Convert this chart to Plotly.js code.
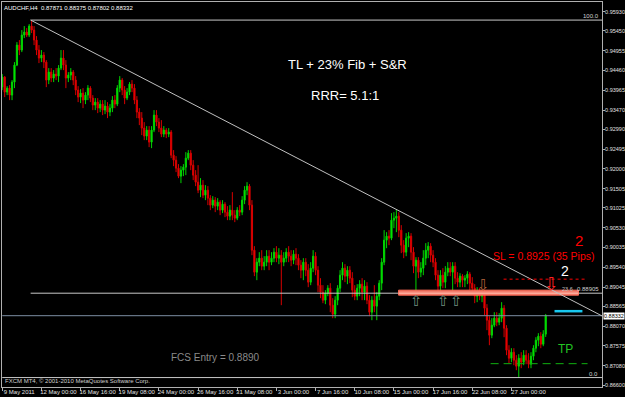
<!DOCTYPE html>
<html><head><meta charset="utf-8">
<script src="https://cdn.plot.ly/plotly-3.0.1.min.js"></script>
<style>html,body{margin:0;padding:0;background:#000;}#chart{width:625px;height:397px;}</style>
</head><body><div id="chart"></div>
<script>
// AUDCHF H4 candles (9 May 2011 08:00 ... 29 Jun 2011)
const open = [
0.94045,0.94295,0.93920,0.94020,0.93845,0.94170,0.94595,0.95095,0.94970,0.95345,
0.95420,0.95345,0.95570,0.95470,0.95220,0.94970,0.94770,0.94845,0.94670,0.94220,
0.94420,0.94270,0.94370,0.94320,0.94520,0.94770,0.94595,0.94270,0.94345,0.94420,
0.94220,0.93970,0.93795,0.93895,0.93720,0.93845,0.94020,0.93770,0.93595,0.93670,
0.93520,0.93620,0.93470,0.93570,0.93420,0.93520,0.93720,0.93620,0.94020,0.94220,
0.93970,0.93770,0.93920,0.94120,0.94020,0.93720,0.93420,0.93270,0.93020,0.92820,
0.92970,0.92670,0.92970,0.93345,0.93170,0.93020,0.92870,0.92970,0.92870,0.92920,
0.92345,0.92220,0.92020,0.91820,0.91970,0.92045,0.92270,0.92395,0.92095,0.91845,
0.91670,0.91470,0.91595,0.91345,0.91470,0.91270,0.91095,0.91220,0.91070,0.91170,
0.90970,0.91120,0.90920,0.90820,0.90970,0.90845,0.90770,0.90970,0.90920,0.91220,
0.91470,0.91570,0.91095,0.89970,0.89420,0.89670,0.89770,0.89570,0.89670,0.89820,
0.89670,0.89770,0.89920,0.89770,0.89845,0.89670,0.89770,0.89920,0.89820,0.89720,
0.89870,0.89770,0.89595,0.89470,0.89670,0.89470,0.89170,0.89520,0.89820,0.89470,
0.89095,0.88920,0.88720,0.88895,0.89020,0.88595,0.88370,0.88720,0.89020,0.89345,
0.89520,0.89320,0.89470,0.89270,0.88970,0.88820,0.89020,0.89120,0.88920,0.89070,
0.88720,0.88420,0.88720,0.88570,0.88820,0.89145,0.89670,0.90220,0.90320,0.90270,
0.90720,0.90770,0.90820,0.90470,0.90095,0.89920,0.90270,0.90320,0.89920,0.89570,
0.89720,0.89420,0.89520,0.89770,0.89970,0.90070,0.89845,0.89670,0.89345,0.89070,
0.89345,0.89170,0.89420,0.89520,0.89420,0.89570,0.89270,0.89170,0.89320,0.89220,
0.89270,0.89370,0.89145,0.89020,0.88820,0.88920,0.88820,0.88895,0.88520,0.88220,
0.87845,0.88095,0.88270,0.88170,0.88270,0.88520,0.88020,0.87470,0.87270,0.87420,
0.87220,0.87070,0.87270,0.87170,0.87345,0.87220,0.87120,0.87320,0.87520,0.87720,
0.87820,0.87620,0.87871];
const high = [
0.94370,0.94320,0.94070,0.94095,0.94220,0.94670,0.95170,0.95220,0.95470,0.95570,
0.95520,0.95620,0.95720,0.95570,0.95320,0.95095,0.94970,0.94920,0.94720,0.94520,
0.94520,0.94470,0.94520,0.94595,0.94970,0.94970,0.94720,0.94420,0.94520,0.94470,
0.94320,0.94070,0.93995,0.94020,0.93920,0.94095,0.94070,0.93845,0.93770,0.93770,
0.93720,0.93720,0.93720,0.93670,0.93620,0.93820,0.93845,0.94095,0.94320,0.94270,
0.94070,0.94020,0.94170,0.94220,0.94120,0.93820,0.93520,0.93420,0.93170,0.93070,
0.93070,0.93070,0.93470,0.93470,0.93270,0.93220,0.93070,0.93020,0.93020,0.92970,
0.92470,0.92320,0.92120,0.92070,0.92120,0.92420,0.92470,0.92470,0.92220,0.91970,
0.92095,0.91770,0.91720,0.91595,0.91570,0.91345,0.91320,0.91295,0.91270,0.91220,
0.91220,0.91170,0.91070,0.91095,0.91420,0.90970,0.91045,0.91095,0.91320,0.91570,
0.91670,0.91620,0.91220,0.90070,0.89770,0.89920,0.89970,0.89820,0.89970,0.89970,
0.89920,0.90020,0.90070,0.90020,0.89970,0.89920,0.90020,0.90070,0.89970,0.89970,
0.90020,0.89870,0.89720,0.89770,0.89770,0.89620,0.89670,0.89970,0.89920,0.89570,
0.89270,0.89095,0.88970,0.89095,0.89145,0.88770,0.88820,0.89095,0.89470,0.89670,
0.89620,0.89570,0.89570,0.89420,0.89095,0.89120,0.89220,0.89270,0.89220,0.89170,
0.88845,0.88820,0.89095,0.88920,0.89220,0.89770,0.90470,0.90420,0.90470,0.90895,
0.90920,0.90995,0.90920,0.90595,0.90220,0.90395,0.90420,0.90395,0.90045,0.89795,
0.89795,0.89670,0.89970,0.90145,0.90170,0.90145,0.89970,0.89770,0.89470,0.89470,
0.89520,0.89570,0.89670,0.89670,0.89670,0.89670,0.89420,0.89395,0.89370,0.89345,
0.89445,0.89420,0.89295,0.89120,0.89045,0.89020,0.88970,0.88970,0.88620,0.88320,
0.88270,0.88420,0.88420,0.88395,0.88670,0.88595,0.88095,0.87595,0.87520,0.87520,
0.87345,0.87370,0.87420,0.87470,0.87470,0.87395,0.87420,0.87595,0.87795,0.87895,
0.87920,0.87970,0.88375];
const low = [
0.93970,0.93795,0.93845,0.93720,0.93720,0.94020,0.94570,0.94845,0.94920,0.95270,
0.95295,0.95295,0.95395,0.95095,0.94845,0.94645,0.94670,0.94520,0.94045,0.94120,
0.94170,0.94170,0.94220,0.94170,0.94470,0.94470,0.94020,0.94170,0.94220,0.94095,
0.93845,0.93670,0.93645,0.93520,0.93620,0.93720,0.93670,0.93470,0.93470,0.93395,
0.93420,0.93345,0.93370,0.93270,0.93320,0.93420,0.93520,0.93570,0.93920,0.93845,
0.93620,0.93720,0.93845,0.93920,0.93620,0.93270,0.93095,0.92845,0.92720,0.92720,
0.92545,0.92520,0.92920,0.93070,0.92920,0.92795,0.92795,0.92770,0.92795,0.92270,
0.92070,0.91920,0.91770,0.91645,0.91820,0.91845,0.92220,0.91970,0.91720,0.91570,
0.91395,0.91295,0.91270,0.91220,0.91095,0.90970,0.91020,0.90920,0.90970,0.90845,
0.90895,0.90795,0.90720,0.90720,0.90720,0.90670,0.90720,0.90820,0.90845,0.91120,
0.91345,0.90970,0.89845,0.89320,0.89220,0.89570,0.89470,0.89470,0.89570,0.89470,
0.89595,0.89670,0.89670,0.89620,0.88595,0.89570,0.89670,0.89670,0.89570,0.89620,
0.89595,0.89470,0.89270,0.89220,0.89320,0.89045,0.89095,0.89420,0.89345,0.88920,
0.88770,0.88645,0.88620,0.88820,0.88420,0.88270,0.88270,0.88595,0.88920,0.89220,
0.89170,0.89120,0.89145,0.88795,0.88720,0.88720,0.88820,0.88720,0.88720,0.88620,
0.88320,0.88220,0.88420,0.88220,0.88720,0.88970,0.89595,0.90020,0.90095,0.90220,
0.90520,0.90420,0.90295,0.89895,0.89770,0.89820,0.90045,0.89720,0.89395,0.88895,
0.89270,0.89295,0.89345,0.89595,0.89770,0.89670,0.89545,0.89220,0.88895,0.88895,
0.89020,0.89020,0.89320,0.89320,0.88895,0.89120,0.89045,0.89045,0.89045,0.89045,
0.89120,0.88970,0.88895,0.88645,0.88670,0.88720,0.88670,0.88345,0.87970,0.87595,
0.87770,0.88045,0.88070,0.88095,0.88170,0.87795,0.87345,0.87145,0.87170,0.87095,
0.86970,0.86795,0.87020,0.87095,0.87120,0.87020,0.87020,0.87220,0.87420,0.87570,
0.87520,0.87570,0.87802];
const close = [
0.94295,0.93920,0.94020,0.93845,0.94170,0.94595,0.95095,0.94970,0.95345,0.95420,
0.95345,0.95570,0.95470,0.95220,0.94970,0.94770,0.94845,0.94670,0.94220,0.94420,
0.94270,0.94370,0.94320,0.94520,0.94770,0.94595,0.94270,0.94345,0.94420,0.94220,
0.93970,0.93795,0.93895,0.93720,0.93845,0.94020,0.93770,0.93595,0.93670,0.93520,
0.93620,0.93470,0.93570,0.93420,0.93520,0.93720,0.93620,0.94020,0.94220,0.93970,
0.93770,0.93920,0.94120,0.94020,0.93720,0.93420,0.93270,0.93020,0.92820,0.92970,
0.92670,0.92970,0.93345,0.93170,0.93020,0.92870,0.92970,0.92870,0.92920,0.92345,
0.92220,0.92020,0.91820,0.91970,0.92045,0.92270,0.92395,0.92095,0.91845,0.91670,
0.91470,0.91595,0.91345,0.91470,0.91270,0.91095,0.91220,0.91070,0.91170,0.90970,
0.91120,0.90920,0.90820,0.90970,0.90845,0.90770,0.90970,0.90920,0.91220,0.91470,
0.91570,0.91095,0.89970,0.89420,0.89670,0.89770,0.89570,0.89670,0.89820,0.89670,
0.89770,0.89920,0.89770,0.89845,0.89670,0.89770,0.89920,0.89820,0.89720,0.89870,
0.89770,0.89595,0.89470,0.89670,0.89470,0.89170,0.89520,0.89820,0.89470,0.89095,
0.88920,0.88720,0.88895,0.89020,0.88595,0.88370,0.88720,0.89020,0.89345,0.89520,
0.89320,0.89470,0.89270,0.88970,0.88820,0.89020,0.89120,0.88920,0.89070,0.88720,
0.88420,0.88720,0.88570,0.88820,0.89145,0.89670,0.90220,0.90320,0.90270,0.90720,
0.90770,0.90820,0.90470,0.90095,0.89920,0.90270,0.90320,0.89920,0.89570,0.89720,
0.89420,0.89520,0.89770,0.89970,0.90070,0.89845,0.89670,0.89345,0.89070,0.89345,
0.89170,0.89420,0.89520,0.89420,0.89570,0.89270,0.89170,0.89320,0.89220,0.89270,
0.89370,0.89145,0.89020,0.88820,0.88920,0.88820,0.88895,0.88520,0.88220,0.87845,
0.88095,0.88270,0.88170,0.88270,0.88520,0.88020,0.87470,0.87270,0.87420,0.87220,
0.87070,0.87270,0.87170,0.87345,0.87220,0.87120,0.87320,0.87520,0.87720,0.87820,
0.87620,0.87870,0.88332];

// time axis (bar index of each label) and labels
const xTickIdx = [0,16,32,48,64,80,96,112,128,144,160,176,192,208];
const xTickText = ["9 May 2011","12 May 00:00","16 May 16:00","19 May 08:00","24 May 00:00","26 May 16:00",
  "31 May 08:00","3 Jun 00:00","7 Jun 16:00","10 Jun 08:00","15 Jun 00:00","17 Jun 16:00","22 Jun 08:00","27 Jun 00:00"];
// price scale labels
const yTickVals = [0.95930,0.95450,0.94955,0.94460,0.93965,0.93470,0.92990,0.92495,0.92000,0.91505,
  0.91025,0.90530,0.90035,0.89540,0.89045,0.88565,0.88070,0.87575,0.87080,0.86600];

// drawn objects (bar index, price)
const trendIdx = [11.6, 245.2];
const trendPrice = [0.95720, 0.88320];
const fibHigh = 0.95720, fibLow = 0.86786, fibStartIdx = 11.6;
const bidPrice = 0.88332;
const lastQuote = [0.87871, 0.88375, 0.87802, 0.88332];
const zoneIdx = [161.9, 235.4], zonePrice = [0.88845, 0.88970];
const slIdx = [204.8, 238.3], slPrice = 0.89245;
const tpIdx = [199.5, 239.1], tpPrice = 0.87133;
const cyanIdx = [225.6, 237.0], cyanPrice = 0.88445;
const upArrowIdx = [169.2, 180.3, 185.6], upArrowPrice = 0.88708;
const downArrowIdx = 196.6, downArrowPrice = 0.89107;
const bigArrowIdx = 224.4, bigArrowPrice = 0.89135;

const idx = close.map((_, i) => i);
const fib236 = fibLow + 0.236 * (fibHigh - fibLow);
const F = "Liberation Sans, Arial, sans-serif";
const xEnd = 245.0;

const trace = {
  type: 'candlestick', x: idx, open: open, high: high, low: low, close: close,
  increasing: {line: {color: '#00d400', width: 1}, fillcolor: '#00ff00'},
  decreasing: {line: {color: '#d80000', width: 1}, fillcolor: '#ff0000'},
  whiskerwidth: 0, hoverinfo: 'skip', showlegend: false
};

const shapes = [
  {type:'line', xref:'x', yref:'y', x0:fibStartIdx, x1:xEnd, y0:fibHigh, y1:fibHigh, line:{color:'#c8c8c8', width:1}},
  {type:'line', xref:'x', yref:'y', x0:fibStartIdx, x1:xEnd, y0:fib236, y1:fib236, line:{color:'#c8c8c8', width:1}},
  {type:'line', xref:'x', yref:'y', x0:0, x1:xEnd, y0:fibLow, y1:fibLow, line:{color:'#c8c8c8', width:1}},
  {type:'line', xref:'x', yref:'y', x0:0, x1:xEnd, y0:bidPrice, y1:bidPrice, line:{color:'#7d8ea3', width:1}},
  {type:'rect', xref:'x', yref:'y', x0:zoneIdx[0], x1:zoneIdx[1], y0:zonePrice[0], y1:zonePrice[1], fillcolor:'#f47e6e', line:{color:'#ff6a55', width:1}},
  {type:'line', xref:'x', yref:'y', x0:zoneIdx[0], x1:zoneIdx[1], y0:fib236, y1:fib236, line:{color:'#ffc0b0', width:1}},
  {type:'line', xref:'x', yref:'y', x0:trendIdx[0], x1:trendIdx[1], y0:trendPrice[0], y1:trendPrice[1], line:{color:'#c0c0c0', width:1}},
  {type:'line', xref:'x', yref:'y', x0:slIdx[0], x1:slIdx[1], y0:slPrice, y1:slPrice, line:{color:'#ff0000', width:1, dash:'3px,3px'}},
  {type:'line', xref:'x', yref:'y', x0:tpIdx[0], x1:tpIdx[1], y0:tpPrice, y1:tpPrice, line:{color:'#10b010', width:1, dash:'8px,5px'}},
  {type:'line', xref:'x', yref:'y', x0:cyanIdx[0], x1:cyanIdx[1], y0:cyanPrice, y1:cyanPrice, line:{color:'#18c8f0', width:2.5}}
];

const ann = [];
function txt(x, y, text, size, color, opts) {
  ann.push(Object.assign({xref:'x', yref:'y', x:x, y:y, text:text, showarrow:false,
    font:{family:F, size:size, color:color}}, opts || {}));
}
txt(141.1, 0.94620, 'TL + 23% Fib + S&amp;R', 13, '#ffffff');
txt(140.2, 0.93845, 'RRR= 5.1:1', 13, '#ffffff');
txt(220.9, 0.89820, 'SL = 0.8925 (35 Pips)', 10.5, '#ff0000');
txt(235.8, 0.90220, '2', 15, '#ff0000');
txt(229.7, 0.89450, '2', 14, '#ffffff', {borderpad:0});
txt(229.9, 0.87495, 'TP', 12, '#22c422');
txt(87.3, 0.87295, 'FCS Entry = 0.8890', 10, '#8a8a8a');
upArrowIdx.forEach(function (xi) { txt(xi, upArrowPrice, '⇧', 15, '#6f8f7f', {font:{family:'DejaVu Sans', size:15, color:'#6f8f7f'}}); });
txt(downArrowIdx, downArrowPrice, '⇩', 15, '#b0603a', {font:{family:'DejaVu Sans', size:15, color:'#b0603a'}});
txt(bigArrowIdx, bigArrowPrice, '⇩', 18, '#ff2020', {borderpad:0, font:{family:'DejaVu Sans', size:18, color:'#ff2020'}});
txt(231.0, fib236, '23.6', 5.5, '#c0c0c0', {yanchor:'bottom', yshift:-1});
// fib and line labels at the right edge
ann.push({xref:'paper', yref:'y', x:1, y:fibHigh, xanchor:'right', yanchor:'bottom', xshift:-1, yshift:-1, text:'100.0', showarrow:false, font:{family:F, size:6, color:'#d0d0d0'}});
ann.push({xref:'paper', yref:'y', x:1, y:fibLow, xanchor:'right', yanchor:'bottom', xshift:-2, yshift:-1, text:'0.0', showarrow:false, font:{family:F, size:6, color:'#d0d0d0'}});
ann.push({xref:'paper', yref:'y', x:1, y:0.88905, xanchor:'right', yanchor:'bottom', xshift:-1, yshift:-1, text:'0.88905', showarrow:false, font:{family:F, size:6, color:'#d0d0d0'}});
// current bid label on the price scale
ann.push({xref:'paper', yref:'y', x:1, y:bidPrice, xanchor:'left', yanchor:'middle', xshift:1, text:bidPrice.toFixed(5), showarrow:false, bgcolor:'#ffffff', borderpad:0, font:{family:F, size:5.5, color:'#000000'}});
// header
ann.push({xref:'paper', yref:'paper', x:0, y:1, xanchor:'left', yanchor:'top', xshift:0, yshift:-1,
  text:'AUDCHF,H4  ' + lastQuote.map(function (v) { return v.toFixed(5); }).join(' '), showarrow:false, font:{family:F, size:6, color:'#ffffff'}});
ann.push({xref:'paper', yref:'paper', x:0, y:0, xanchor:'left', yanchor:'bottom', xshift:1, yshift:1,
  text:'FXCM MT4, © 2001-2010 MetaQuotes Software Corp.', showarrow:false, font:{family:F, size:6, color:'#d0d0d0'}});

const layout = {
  width: 625, height: 397,
  margin: {l: 2, r: 23, t: 2, b: 10, pad: 0},
  paper_bgcolor: '#000000', plot_bgcolor: '#000000',
  showlegend: false, hovermode: false, dragmode: false,
  xaxis: {range: [-0.1, 245.0], rangeslider: {visible: false}, showgrid: false, zeroline: false,
    tickmode: 'array', tickvals: xTickIdx, ticktext: xTickText, ticks: 'outside', ticklen: 3,
    tickcolor: '#b0b0b0', tickfont: {family: F, size: 6, color: '#e0e0e0'}, ticklabelshift: 17,
    ticklabelstandoff: -4,
    showline: true, linecolor: '#b0b0b0', linewidth: 1, mirror: true, fixedrange: true},
  yaxis: {range: [0.86550, 0.96172], side: 'right', showgrid: false, zeroline: false,
    tickmode: 'array', tickvals: yTickVals, ticktext: yTickVals.map(function (v) { return v.toFixed(5); }),
    ticks: 'outside', ticklen: 2, tickcolor: '#b0b0b0', tickfont: {family: F, size: 5.5, color: '#e0e0e0'},
    ticklabelstandoff: -1,
    showline: true, linecolor: '#b0b0b0', linewidth: 1, mirror: true, fixedrange: true},
  shapes: shapes, annotations: ann
};
Plotly.newPlot('chart', [trace], layout, {staticPlot: true, displayModeBar: false});
</script></body></html>
